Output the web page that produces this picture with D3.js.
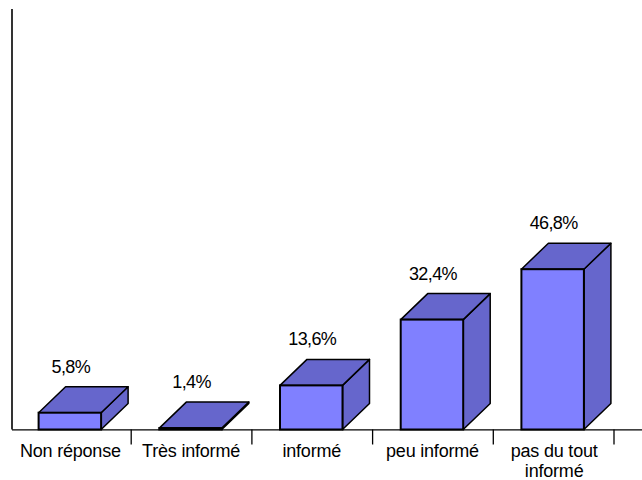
<!DOCTYPE html>
<html><head><meta charset="utf-8">
<script src="https://cdn.jsdelivr.net/npm/d3@7/dist/d3.min.js"></script>
<style>html,body{margin:0;padding:0;background:#fff}svg{display:block}text{font-family:"Liberation Sans",Arial,sans-serif;fill:#000}</style>
</head><body><svg id="c" width="642" height="480"></svg>
<script>
const categories = ["Non réponse","Très informé","informé","peu informé","pas du tout informé"];
const values = [5.8,1.4,13.6,32.4,46.8];
const valueLabels = ["5,8%","1,4%","13,6%","32,4%","46,8%"];
const categoryLines = [["Non réponse"],["Très informé"],["informé"],["peu informé"],["pas du tout","informé"]];

const svg = d3.select("#c");
const baseY = 429.5, depthX = 27, depthY = 26, barW = 62.5;
const x = d3.scaleBand().domain(categories).range([10.5,614]).padding(0);
const y = d3.scaleLinear().domain([1,123]).range([baseY,2.5]);
const ln = "#000";

// bars
categories.forEach((c,i)=>{
  const v = values[i];
  const x0 = x(c)+x.bandwidth()/2-barW/2-1, x1 = x0+barW, t = y(v);
  const g = svg.append("g");
  const poly = (pts,fill,sw)=>g.append("polygon").attr("points",pts.map(p=>p.join(",")).join(" "))
    .attr("fill",fill).attr("stroke",ln).attr("stroke-width",sw).attr("stroke-linejoin","round");
  poly([[x1,t],[x1+depthX,t-depthY],[x1+depthX,baseY-depthY],[x1,baseY]],"#6666cc",1.5);
  poly([[x0,t],[x0+depthX,t-depthY],[x1+depthX,t-depthY],[x1,t]],"#6666cc",1.5);
  g.append("rect").attr("x",x0).attr("y",t).attr("width",barW).attr("height",baseY-t)
    .attr("fill","#8080ff").attr("stroke",ln).attr("stroke-width",2);
  svg.append("text").attr("x",x0+barW/2+1).attr("y",t-depthY-14).attr("text-anchor","middle")
    .attr("font-size",18).attr("letter-spacing",-0.6).text(valueLabels[i]);
});

// axes
svg.append("line").attr("x1",12).attr("x2",12).attr("y1",9).attr("y2",baseY).attr("stroke",ln).attr("stroke-width",1.6);
svg.append("line").attr("x1",12).attr("x2",642).attr("y1",baseY+.3).attr("y2",baseY+.3).attr("stroke",ln).attr("stroke-width",1.3);
categories.forEach(c=>{
  const tx = x(c)+x.bandwidth();
  svg.append("line").attr("x1",tx).attr("x2",tx).attr("y1",baseY).attr("y2",baseY+15).attr("stroke",ln).attr("stroke-width",1.3);
});
categories.forEach((c,i)=>{
  categoryLines[i].forEach((t,j)=>{
    svg.append("text").attr("x",x(c)+x.bandwidth()/2-0.5+(i==4?1:0)).attr("y",456.5+j*20).attr("text-anchor","middle")
      .attr("font-size",18).attr("letter-spacing",-0.2).text(t);
  });
});
</script></body></html>
